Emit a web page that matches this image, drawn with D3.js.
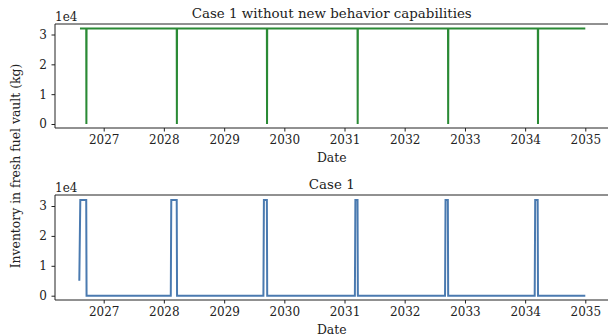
<!DOCTYPE html>
<html>
<head>
<meta charset="utf-8">
<script src="https://cdn.jsdelivr.net/npm/d3@7"></script>
<style>
  html, body { margin: 0; padding: 0; background: #fff; }
  svg { display: block; }
  text { font-family: "DejaVu Serif", serif; fill: #222; }
</style>
</head>
<body>
<svg id="chart" width="608" height="335"></svg>
<script>
// Fresh fuel vault inventory, two scenarios

// Case 1 without new behavior capabilities: vault stays full, emptied briefly at each refuel
const vaultDatesA = [
  "2026-08-10", "2026-09-17", "2026-09-18", "2026-09-19",
  "2028-03-19", "2028-03-20", "2028-03-21",
  "2029-09-17", "2029-09-18", "2029-09-19",
  "2031-03-21", "2031-03-22", "2031-03-23",
  "2032-09-20", "2032-09-21", "2032-09-22",
  "2034-03-19", "2034-03-20", "2034-03-21",
  "2035-01-01"
];
const vaultValuesA = [
  32000, 32000, 0, 32000,
  32000, 0, 32000,
  32000, 0, 32000,
  32000, 0, 32000,
  32000, 0, 32000,
  32000, 0, 32000,
  32000
];

// Case 1: fuel delivered shortly before each refuel, vault empty otherwise
const vaultDatesB = [
  "2026-08-06", "2026-08-12", "2026-09-17", "2026-09-19",
  "2028-02-12", "2028-02-15", "2028-03-19", "2028-03-21",
  "2029-08-27", "2029-08-30", "2029-09-17", "2029-09-19",
  "2031-03-05", "2031-03-08", "2031-03-21", "2031-03-23",
  "2032-09-02", "2032-09-05", "2032-09-19", "2032-09-21",
  "2034-02-28", "2034-03-03", "2034-03-18", "2034-03-20",
  "2035-01-01"
];
const vaultValuesB = [
  5000, 32000, 32000, 0,
  0, 32000, 32000, 0,
  0, 32000, 32000, 0,
  0, 32000, 32000, 0,
  0, 32000, 32000, 0,
  0, 32000, 32000, 0,
  0
];

const yearTicks = [2027, 2028, 2029, 2030, 2031, 2032, 2033, 2034, 2035];
const yTicks = [0, 10000, 20000, 30000];

const titles = ["Case 1 without new behavior capabilities", "Case 1"];
const colors = ["#2a8a35", "#4a7ab0"];

const svg = d3.select("#chart");
const parse = d3.utcParse("%Y-%m-%d");

const left = 55, right = 608.5;
const tickFont = 12, labelFont = 12.4, titleFont = 13.4;
const panels = [
  { top: 24, bottom: 128, y0: 124, y3: 34.5, dates: vaultDatesA, values: vaultValuesA },
  { top: 195, bottom: 300, y0: 295.7, y3: 206, dates: vaultDatesB, values: vaultValuesB }
];

const x = d3.scaleUtc()
  .domain([Date.UTC(2027, 0, 1), Date.UTC(2035, 0, 1)])
  .range([103.7, 585.3]);

panels.forEach((p, i) => {
  const y = d3.scaleLinear().domain([0, 30000]).range([p.y0, p.y3]);
  const g = svg.append("g");

  // data line
  const pts = p.dates.map((d, k) => ({ date: parse(d), value: p.values[k] }));
  g.append("path")
    .datum(pts)
    .attr("fill", "none")
    .attr("stroke", colors[i])
    .attr("stroke-width", 2)
    .attr("stroke-linejoin", "miter")
    .attr("d", d3.line().x(d => x(d.date)).y(d => y(d.value)));

  // x axis
  const xAxis = d3.axisBottom(x)
    .tickValues(yearTicks.map(yr => new Date(Date.UTC(yr, 0, 1))))
    .tickFormat(d3.utcFormat("%Y"))
    .tickSize(3.5).tickPadding(4);
  const gx = g.append("g").attr("transform", `translate(0,${p.bottom})`).call(xAxis);
  gx.select(".domain").remove();
  gx.selectAll("line").attr("stroke", "#222");
  gx.selectAll("text").attr("font-size", tickFont).attr("font-family", "DejaVu Serif").attr("fill", "#222");

  // y axis
  const yAxis = d3.axisLeft(y)
    .tickValues(yTicks)
    .tickFormat(v => String(v / 10000))
    .tickSize(3.5).tickPadding(4.5);
  const gy = g.append("g").attr("transform", `translate(${left},0)`).call(yAxis);
  gy.select(".domain").remove();
  gy.selectAll("line").attr("stroke", "#222");
  gy.selectAll("text").attr("font-size", tickFont).attr("font-family", "DejaVu Serif").attr("fill", "#222");

  // spines: left, top, bottom
  g.append("path")
    .attr("d", `M${right},${p.top}H${left}V${p.bottom}H${right}`)
    .attr("fill", "none").attr("stroke", "#222").attr("stroke-width", 1);

  // offset label
  g.append("text").attr("x", left).attr("y", p.top - 3.5)
    .attr("font-size", tickFont).text("1e4");

  // title
  g.append("text").attr("x", (left + right) / 2).attr("y", p.top - 6.5)
    .attr("text-anchor", "middle").attr("font-size", titleFont).text(titles[i]);

  // x label
  g.append("text").attr("x", (left + right) / 2).attr("y", p.bottom + 33.5)
    .attr("text-anchor", "middle").attr("font-size", labelFont).text("Date");
});

// shared y label
svg.append("text")
  .attr("transform", "translate(19.5,166) rotate(-90)")
  .attr("text-anchor", "middle").attr("font-size", labelFont)
  .text("Inventory in fresh fuel vault (kg)");
</script>
</body>
</html>
